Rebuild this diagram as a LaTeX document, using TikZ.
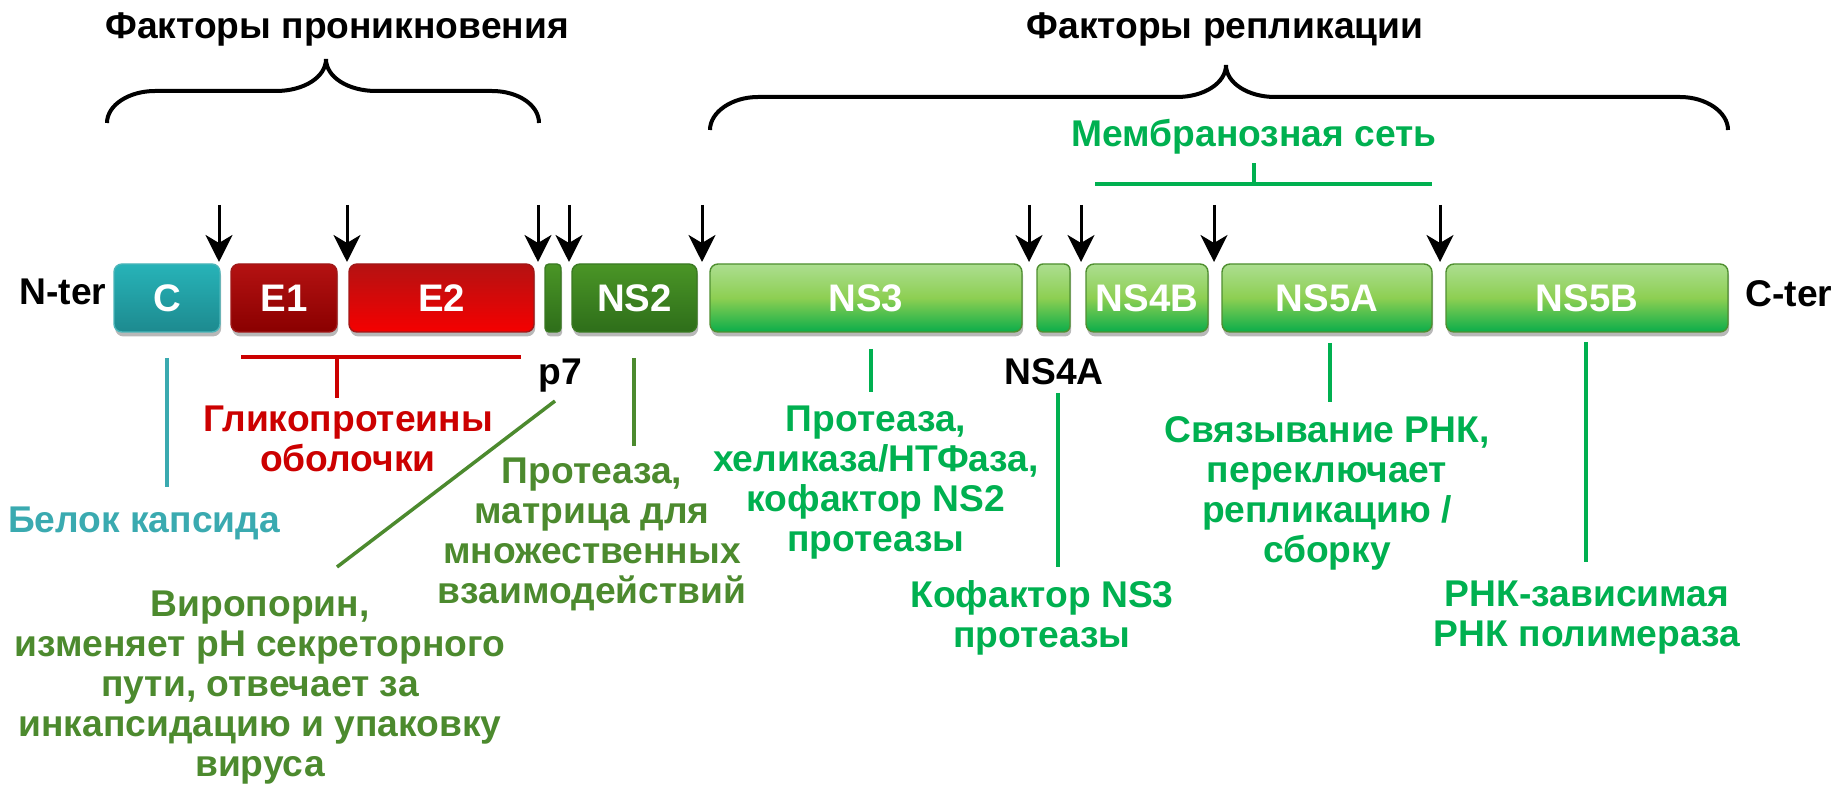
\documentclass[tikz,border=0pt]{standalone}
\usepackage{fontspec}
\setmainfont{Liberation Sans}
\usetikzlibrary{arrows.meta,shadows}
\definecolor{tealA}{HTML}{27B3B8}
\definecolor{tealB}{HTML}{1D8A8F}
\definecolor{tealE}{HTML}{4BB5B9}
\definecolor{redA}{HTML}{B41212}
\definecolor{redB}{HTML}{8A0000}
\definecolor{redC}{HTML}{F50000}
\definecolor{redE}{HTML}{A01818}
\definecolor{dgA}{HTML}{4A9526}
\definecolor{dgB}{HTML}{2E6E1A}
\definecolor{dgE}{HTML}{3A7A22}
\definecolor{lgA}{HTML}{ACDE90}
\definecolor{lgM}{HTML}{8DCF52}
\definecolor{lgB}{HTML}{0BAD4A}
\definecolor{lgE}{HTML}{4F8F30}
\definecolor{tealT}{HTML}{3AAAB0}
\definecolor{redT}{HTML}{CC0000}
\definecolor{dgT}{HTML}{4C8A2E}
\definecolor{bgT}{HTML}{00B050}
\begin{document}
\begin{tikzpicture}[x=0.5pt,y=-0.5pt,
  every node/.style={inner sep=0pt,outer sep=0pt},
  lbl/.style={font=\bfseries\fontsize{18.6}{20}\selectfont,align=center},
  seg/.style={rounded corners=4pt,minimum height=34pt,line width=0.7pt,text=white,
    font=\bfseries\fontsize{19.2}{20}\selectfont,
    drop shadow={shadow xshift=0.6pt,shadow yshift=-2.2pt,opacity=0.28,fill=black}},
  tealseg/.style={seg,draw=tealE,top color=tealA,bottom color=tealB},
  redseg/.style={seg,draw=redE,top color=redA,bottom color=redB},
  brightredseg/.style={seg,draw=redE,top color=redA,bottom color=redC},
  darkseg/.style={seg,draw=dgE,top color=dgA,bottom color=dgB},
  lightseg/.style={seg,draw=lgE,top color=lgA,bottom color=lgB,middle color=lgM},
  cut/.style={line width=1.5pt,-{Stealth[length=13.5pt,width=13.5pt,inset=4pt]}},
  brace/.style={line width=2pt},
  ln/.style={line width=1.75pt}
]
\useasboundingbox (0,0) rectangle (1837,785);

% titles and braces
\node[lbl,anchor=base] (ttlA) at (337,39) {Факторы проникновения};
\node[lbl,anchor=base] (ttlB) at (1225,39) {Факторы репликации};
\draw[brace] (107,123) .. controls (107,105) and (129,91) .. (155,91) -- (276,91)
  .. controls (304,91) and (326,77) .. (326,59)
  .. controls (326,77) and (348,91) .. (376,91) -- (492,91)
  .. controls (518,91) and (539,105) .. (539,123);
\draw[brace] (710,130) .. controls (710,112) and (732,97) .. (758,97) -- (1177,97)
  .. controls (1204,97) and (1226,83) .. (1226,65)
  .. controls (1226,83) and (1248,97) .. (1275,97) -- (1680,97)
  .. controls (1706,97) and (1728,112) .. (1728,130);

% membrane network
\node[lbl,anchor=base,text=bgT] (memb) at (1254,147) {Мембранозная сеть};
\coordinate (mbL) at (1095,184);
\coordinate (mbR) at (1432,184);
\coordinate (mbM) at (1254,184);
\coordinate (mbT) at (1254,163);
\draw[ln,bgT] (mbL) -- (mbR);
\draw[ln,bgT] (mbM) -- (mbT);

% polyprotein segments
\node[lbl,anchor=base] (nter) at (63,305) {N-ter};
\node[tealseg,minimum width=53pt] (C) at (167,298) {C};
\node[redseg,minimum width=53pt] (E1) at (284,298) {E1};
\node[brightredseg,minimum width=92.5pt] (E2) at (441.5,298) {E2};
\node[darkseg,minimum width=8pt,rounded corners=2pt] (p7) at (553,298) {};
\node[darkseg,minimum width=62.5pt] (NS2) at (634.5,298) {NS2};
\node[lightseg,minimum width=156pt] (NS3) at (866,298) {NS3};
\node[lightseg,minimum width=16.5pt,rounded corners=3pt] (NS4A) at (1053.5,298) {};
\node[lightseg,minimum width=61pt] (NS4B) at (1147,298) {NS4B};
\node[lightseg,minimum width=105pt] (NS5A) at (1327,298) {NS5A};
\node[lightseg,minimum width=141pt] (NS5B) at (1587,298) {NS5B};
\node[lbl,anchor=base] (cter) at (1789,307) {C-ter};

% cleavage sites
\foreach \i/\x in {1/219,2/347,3/538,4/569,5/702,6/1029,7/1081,8/1214,9/1440}{
  \coordinate (cs\i top) at (\x,205);
  \coordinate (cs\i tip) at (\x,262);
  \draw[cut] (cs\i top) -- (cs\i tip);
}

% small labels
\node[lbl,anchor=base] (p7lab) at (560,385) {p7};
\node[lbl,anchor=base] (ns4alab) at (1054,385) {NS4A};

% capsid
\coordinate (capA) at (167,358);
\coordinate (capB) at (167,487);
\draw[ln,tealT] (capA) -- (capB);
\node[lbl,anchor=base,text=tealT] (capt) at (144,533) {Белок капсида};

% glycoproteins
\coordinate (glL) at (241,357);
\coordinate (glR) at (521,357);
\coordinate (glM) at (337,357);
\coordinate (glD) at (337,398);
\draw[ln,redT] (glL) -- (glR);
\draw[ln,redT] (glM) -- (glD);
\node[lbl,anchor=north,text=redT] (glyt) at (348,406) {Гликопротеины\\оболочки};

% p7
\coordinate (p7A) at (555,401);
\coordinate (p7B) at (337,567);
\draw[ln,dgT] (p7A) -- (p7B);
\node[lbl,anchor=north,text=dgT] (p7t) at (260,591) {Виропорин,\\изменяет pH секреторного\\пути, отвечает за\\инкапсидацию и упаковку\\вируса};

% NS2
\coordinate (n2A) at (634,358);
\coordinate (n2B) at (634,446);
\draw[ln,dgT] (n2A) -- (n2B);
\node[lbl,anchor=north,text=dgT] (ns2t) at (592,458) {Протеаза,\\матрица для\\множественных\\взаимодействий};

% NS3
\coordinate (n3A) at (871,349);
\coordinate (n3B) at (871,392);
\draw[ln,bgT] (n3A) -- (n3B);
\node[lbl,anchor=north,text=bgT] (ns3t) at (876,406) {Протеаза,\\хеликаза/НТФаза,\\кофактор NS2\\протеазы};

% NS4A
\coordinate (n4A) at (1058,393);
\coordinate (n4B) at (1058,567);
\draw[ln,bgT] (n4A) -- (n4B);
\node[lbl,anchor=north,text=bgT] (ns4at) at (1042,581) {Кофактор NS3\\протеазы};

% NS5A
\coordinate (n5A) at (1330,343);
\coordinate (n5B) at (1330,402);
\draw[ln,bgT] (n5A) -- (n5B);
\node[lbl,anchor=north,text=bgT] (ns5at) at (1327,417) {Связывание РНК,\\переключает\\репликацию /\\сборку};

% NS5B
\coordinate (n6A) at (1586,342);
\coordinate (n6B) at (1586,562);
\draw[ln,bgT] (n6A) -- (n6B);
\node[lbl,anchor=north,text=bgT] (ns5bt) at (1587,581) {РНК-зависимая\\РНК полимераза};
\end{tikzpicture}
\end{document}
